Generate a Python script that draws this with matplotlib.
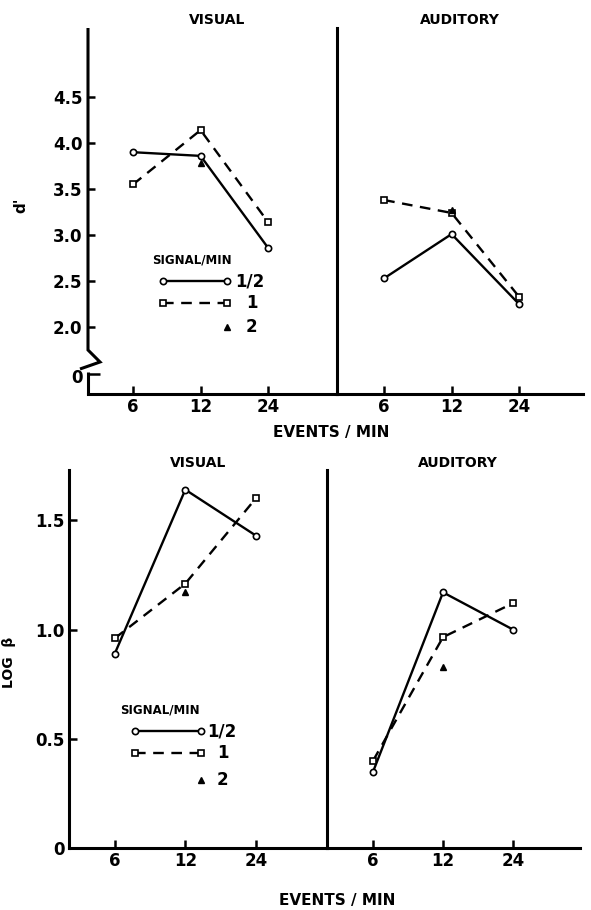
import matplotlib
matplotlib.use("Agg")
import matplotlib.pyplot as plt
from matplotlib.lines import Line2D

plt.rcParams['font.family'] = ['DejaVu Sans']
plt.rcParams['font.weight'] = 'bold'

# ---------------- data ----------------
events = ["6", "12", "24"]
x_idx = [0, 1, 2]

# d' (top row)
dprime_visual_half = [3.90, 3.86, 2.86]
dprime_visual_one = [3.55, 4.14, 3.14]
dprime_visual_two = [3.78]          # at 12 events/min
dprime_aud_half = [2.53, 3.01, 2.25]
dprime_aud_one = [3.38, 3.24, 2.33]
dprime_aud_two = [3.27]

# log beta (bottom row)
logb_visual_half = [0.89, 1.64, 1.43]
logb_visual_one = [0.96, 1.21, 1.60]
logb_visual_two = [1.17]
logb_aud_half = [0.35, 1.17, 1.00]
logb_aud_one = [0.40, 0.965, 1.12]
logb_aud_two = [0.83]

two_idx = [1]

top_yticks = [2.0, 2.5, 3.0, 3.5, 4.0, 4.5]
top_yticklabels = ["2.0", "2.5", "3.0", "3.5", "4.0", "4.5"]
bot_yticks = [0, 0.5, 1.0, 1.5]
bot_yticklabels = ["0", "0.5", "1.0", "1.5"]

W, H = 591, 910
fig = plt.figure(figsize=(W / 100, H / 100), dpi=100)


def fx(px):
    return px / W


def fy(py):
    return 1 - py / H


def add_ax(x0, x1, y0, y1):
    return fig.add_axes([fx(x0), fy(y1), fx(x1) - fx(x0), (y1 - y0) / H])


LW = 1.7
SPW = 2.2
DASH = (4.5, 3.2)
TICKFS = 12
TITLEFS = 10
LABFS = 11


def draw_series(ax, half, one, two):
    ax.plot(x_idx, half, color='black', lw=LW, marker='o', ms=4.5,
            mfc='white', mec='black', mew=1.2, solid_capstyle='butt', zorder=3)
    ax.plot(x_idx, one, color='black', lw=LW, ls=(0, DASH), marker='s', ms=4,
            mfc='white', mec='black', mew=1.2, zorder=3)
    ax.plot(two_idx, two, ls='none', marker='^', ms=4.5, color='black', zorder=4)


def style_ax(ax, xl, yl):
    ax.set_xlim(*xl)
    ax.set_ylim(*yl)
    ax.set_xticks(x_idx)
    ax.set_xticklabels(events, fontsize=TICKFS, fontweight='bold')
    ax.tick_params(axis='x', direction='in', length=6, width=1.8, pad=3)
    ax.tick_params(axis='y', direction='in', length=6, width=1.8, pad=3)
    for s in ['top', 'right']:
        ax.spines[s].set_visible(False)
    for s in ['left', 'bottom']:
        ax.spines[s].set_linewidth(SPW)
    ax.patch.set_alpha(0)


# ---------------- top row ----------------
ylim_top = (1.272, 5.25)
zero_pos_top = 1.467

axTL = add_ax(88, 337, 28, 394)
style_ax(axTL, (-0.667, 3.02), ylim_top)
axTL.spines['left'].set_visible(False)
axTL.set_yticks([zero_pos_top] + top_yticks)
axTL.set_yticklabels(["0"] + top_yticklabels, fontsize=TICKFS, fontweight='bold')
axTL.tick_params(axis='y', length=0, pad=4)
draw_series(axTL, dprime_visual_half, dprime_visual_one, dprime_visual_two)


# left spine with axis break (pixel geometry)
def fig_line(pts, lw=SPW):
    xs = [fx(p[0]) for p in pts]
    ys = [fy(p[1]) for p in pts]
    fig.add_artist(Line2D(xs, ys, transform=fig.transFigure, color='black',
                          lw=lw, solid_capstyle='butt', solid_joinstyle='miter', zorder=5))


fig_line([(88, 28), (88, 350), (100, 362), (80, 369)])
fig_line([(88, 372), (88, 395)])
fig_line([(88, 374), (100, 374)], lw=1.8)
for t in top_yticks:
    py = 327 - (t - 2.0) * 92
    fig_line([(88, py), (95, py)], lw=1.8)

axTR = add_ax(337, 583, 28, 394)
style_ax(axTR, (-0.70, 2.95), ylim_top)
axTR.set_yticks([])
draw_series(axTR, dprime_aud_half, dprime_aud_one, dprime_aud_two)

fig.text(fx(217), fy(20), "VISUAL", ha='center', va='center', fontsize=TITLEFS, fontweight='bold')
fig.text(fx(460), fy(20), "AUDITORY", ha='center', va='center', fontsize=TITLEFS, fontweight='bold')
fig.text(fx(21), fy(205), "d'", ha='center', va='center', fontsize=11, fontweight='bold', rotation=90)
fig.text(fx(331), fy(433), "EVENTS / MIN", ha='center', va='center', fontsize=LABFS, fontweight='bold')

# ---------------- bottom row ----------------
ylim_bot = (0, 1.73)
axBL = add_ax(69, 327, 470, 848)
style_ax(axBL, (-0.65, 3.01), ylim_bot)
axBL.set_yticks(bot_yticks)
axBL.set_yticklabels(bot_yticklabels, fontsize=TICKFS, fontweight='bold')
draw_series(axBL, logb_visual_half, logb_visual_one, logb_visual_two)

axBR = add_ax(327, 580, 470, 848)
style_ax(axBR, (-0.66, 2.96), ylim_bot)
axBR.set_yticks([])
draw_series(axBR, logb_aud_half, logb_aud_one, logb_aud_two)

fig.text(fx(198), fy(463), "VISUAL", ha='center', va='center', fontsize=TITLEFS, fontweight='bold')
fig.text(fx(458), fy(463), "AUDITORY", ha='center', va='center', fontsize=TITLEFS, fontweight='bold')
fig.text(fx(9), fy(662), "LOG  β", ha='center', va='center', fontsize=10, fontweight='bold', rotation=90)
fig.text(fx(337), fy(900), "EVENTS / MIN", ha='center', va='center', fontsize=LABFS, fontweight='bold')


# ---------------- legends (manual) ----------------
def legend(tx, ty, x0, x1, y_half, y_one, y_two, lab_half_x, lab_x):
    fig.text(fx(tx), fy(ty), "SIGNAL/MIN", ha='left', va='center', fontsize=8.5, fontweight='bold')
    fig.add_artist(Line2D([fx(x0), fx(x1)], [fy(y_half)] * 2, transform=fig.transFigure,
                          color='black', lw=LW, marker='o', ms=4.5, mfc='white', mec='black', mew=1.2))
    fig.add_artist(Line2D([fx(x0), fx(x1)], [fy(y_one)] * 2, transform=fig.transFigure,
                          color='black', lw=LW, ls=(0, DASH), marker='s', ms=4, mfc='white',
                          mec='black', mew=1.2))
    fig.add_artist(Line2D([fx(x1)], [fy(y_two)], transform=fig.transFigure, ls='none',
                          marker='^', ms=4.5, color='black'))
    fig.text(fx(lab_half_x), fy(y_half), "1/2", ha='left', va='center', fontsize=TICKFS, fontweight='bold')
    fig.text(fx(lab_x), fy(y_one), "1", ha='left', va='center', fontsize=TICKFS, fontweight='bold')
    fig.text(fx(lab_x), fy(y_two), "2", ha='left', va='center', fontsize=TICKFS, fontweight='bold')


legend(152, 260, 163, 227, 281, 303, 327, 235, 246)
legend(120, 710, 135, 201, 731, 753, 780, 207, 217)

fig.savefig("out.png", dpi=100)
